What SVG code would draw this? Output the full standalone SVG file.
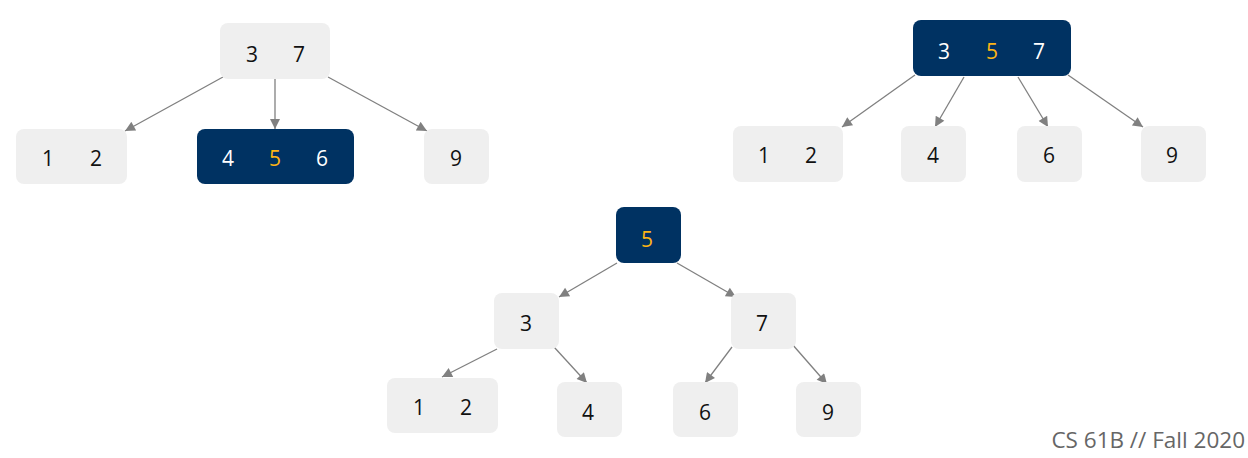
<svg xmlns="http://www.w3.org/2000/svg" width="1248" height="458" viewBox="0 0 1248 458">
<style>
.n{fill:#EFEFEF}
.h{fill:#003262}
.t{font-family:"Open Sans","Noto Sans",sans-serif;font-size:21px;text-anchor:middle;fill:#111}
.w{fill:#FFFFFF}
.g{fill:#FDB515}
.e{stroke:#808080;stroke-width:1.3;fill:none;marker-end:url(#ah)}
.f{font-family:"Open Sans","Noto Sans",sans-serif;font-size:22.5px;fill:#666;text-anchor:end}
</style>
<defs>
<marker id="ah" viewBox="0 0 10 10" refX="10" refY="5" markerWidth="12" markerHeight="10" markerUnits="userSpaceOnUse" orient="auto">
<path d="M0,0 L10,5 L0,10 z" fill="#808080"/>
</marker>
</defs>
<rect width="1248" height="458" fill="#FFFFFF"/>
<g id="connectors">
<line class="e" x1="223" y1="77" x2="125" y2="131"/>
<line class="e" x1="275" y1="79" x2="275" y2="129"/>
<line class="e" x1="328" y1="77" x2="427" y2="131"/>
<line class="e" x1="915" y1="75" x2="842" y2="127"/>
<line class="e" x1="964" y1="77" x2="935" y2="127"/>
<line class="e" x1="1018" y1="77" x2="1048" y2="127"/>
<line class="e" x1="1068" y1="75" x2="1143" y2="127"/>
<line class="e" x1="617" y1="263" x2="559" y2="297"/>
<line class="e" x1="677" y1="263" x2="736" y2="297"/>
<line class="e" x1="497" y1="349" x2="442" y2="377"/>
<line class="e" x1="554" y1="347" x2="587" y2="383"/>
<line class="e" x1="732" y1="347" x2="705" y2="383"/>
<line class="e" x1="792" y1="344" x2="827" y2="384"/>
</g>
<g id="a-root"><rect class="n" x="220" y="23" width="110" height="56" rx="8"/><text class="t" x="252" y="62">3</text><text class="t" x="299" y="62">7</text></g>
<g id="a-12"><rect class="n" x="16" y="129" width="111" height="55" rx="8"/><text class="t" x="48" y="166">1</text><text class="t" x="96" y="166">2</text></g>
<g id="a-456"><rect class="h" x="197" y="129" width="157" height="55" rx="8"/><text class="t w" x="228" y="166">4</text><text class="t g" x="275" y="166">5</text><text class="t w" x="322" y="166">6</text></g>
<g id="a-9"><rect class="n" x="424" y="129" width="65" height="55" rx="8"/><text class="t" x="456" y="166">9</text></g>
<g id="b-root"><rect class="h" x="913" y="20" width="158" height="56" rx="8"/><text class="t w" x="944" y="59">3</text><text class="t g" x="992" y="59">5</text><text class="t w" x="1039" y="59">7</text></g>
<g id="b-12"><rect class="n" x="733" y="126" width="110" height="56" rx="8"/><text class="t" x="764" y="163">1</text><text class="t" x="811" y="163">2</text></g>
<g id="b-4"><rect class="n" x="901" y="126" width="65" height="56" rx="8"/><text class="t" x="933" y="163">4</text></g>
<g id="b-6"><rect class="n" x="1017" y="126" width="65" height="56" rx="8"/><text class="t" x="1049" y="163">6</text></g>
<g id="b-9"><rect class="n" x="1141" y="126" width="65" height="56" rx="8"/><text class="t" x="1172" y="163">9</text></g>
<g id="c-5"><rect class="h" x="616" y="207" width="65" height="56" rx="8"/><text class="t g" x="647" y="247">5</text></g>
<g id="c-3"><rect class="n" x="494" y="293" width="65" height="56" rx="8"/><text class="t" x="526" y="331">3</text></g>
<g id="c-7"><rect class="n" x="731" y="293" width="65" height="56" rx="8"/><text class="t" x="762" y="331">7</text></g>
<g id="c-12"><rect class="n" x="387" y="378" width="111" height="55" rx="8"/><text class="t" x="419" y="415">1</text><text class="t" x="466" y="415">2</text></g>
<g id="c-4"><rect class="n" x="557" y="382" width="65" height="55" rx="8"/><text class="t" x="588" y="420">4</text></g>
<g id="c-6"><rect class="n" x="673" y="382" width="65" height="55" rx="8"/><text class="t" x="705" y="420">6</text></g>
<g id="c-9"><rect class="n" x="796" y="382" width="65" height="55" rx="8"/><text class="t" x="828" y="420">9</text></g>
<text class="f" x="1245" y="448">CS 61B // Fall 2020</text>
</svg>
